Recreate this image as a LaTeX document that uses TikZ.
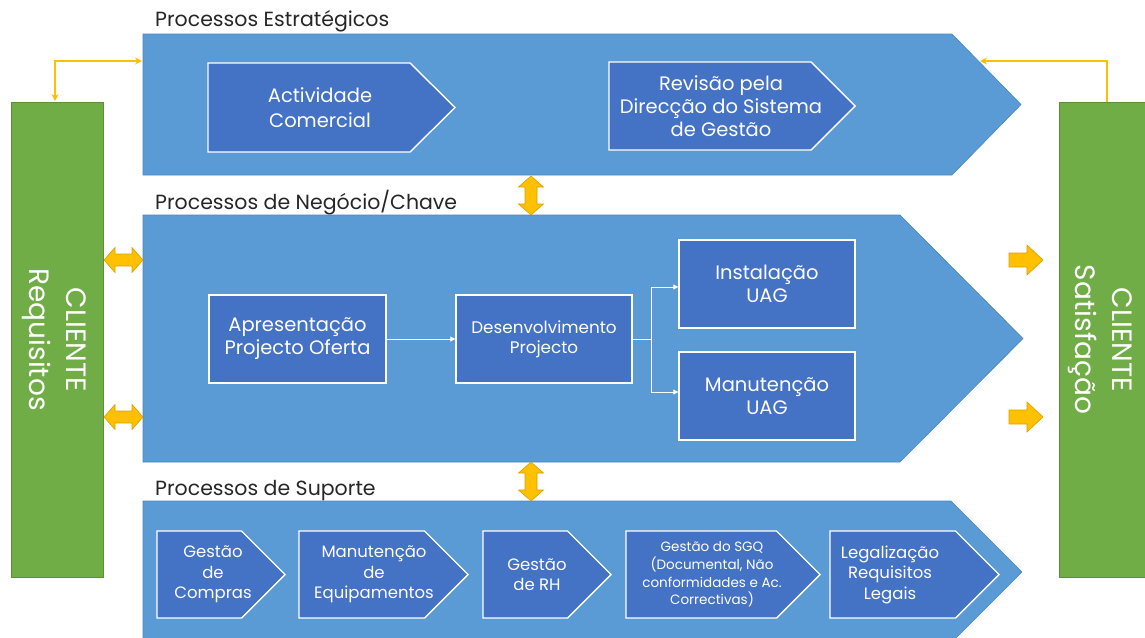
\documentclass[tikz,border=0pt]{standalone}
\usepackage{fontspec}
\setmainfont{Poppins}
\usetikzlibrary{arrows.meta}

\definecolor{panel}{HTML}{5B9BD5}
\definecolor{panelline}{HTML}{4A86C0}
\definecolor{boxfill}{HTML}{4472C4}
\definecolor{client}{HTML}{70AD47}
\definecolor{clientline}{HTML}{5A9038}
\definecolor{flow}{HTML}{FFC000}
\definecolor{flowline}{HTML}{D9A000}
\definecolor{heading}{HTML}{262626}

% horizontal double block arrow: left x, right x, centre y
\newcommand{\hdblarrow}[3]{%
  \filldraw[blockarrow] (#1,#3) -- (#1+11,#3-12.5) -- (#1+11,#3-6) -- (#2-11,#3-6)
    -- (#2-11,#3-12.5) -- (#2,#3) -- (#2-11,#3+12.5) -- (#2-11,#3+6)
    -- (#1+11,#3+6) -- (#1+11,#3+12.5) -- cycle;}
% vertical double block arrow: centre x, top y, bottom y
\newcommand{\vdblarrow}[3]{%
  \filldraw[blockarrow] (#1,#2) -- (#1+12.5,#2+11) -- (#1+6,#2+11) -- (#1+6,#3-11)
    -- (#1+12.5,#3-11) -- (#1,#3) -- (#1-12.5,#3-11) -- (#1-6,#3-11)
    -- (#1-6,#2+11) -- (#1-12.5,#2+11) -- cycle;}
% single block arrow pointing right: left x, right x, centre y
\newcommand{\rblockarrow}[3]{%
  \filldraw[blockarrow] (#1,#3-7) -- (#2-16,#3-7) -- (#2-16,#3-15) -- (#2,#3)
    -- (#2-16,#3+15) -- (#2-16,#3+7) -- (#1,#3+7) -- cycle;}

\begin{document}
\begin{tikzpicture}[x=1pt,y=-1pt,
  panelshape/.style={fill=panel,draw=panelline,line width=0.6pt},
  stepshape/.style={fill=boxfill,draw=white,line width=1.4pt},
  rectbox/.style={rectangle,fill=boxfill,draw=white,line width=1.4pt,
    text=white,align=center,inner sep=0pt},
  lblbig/.style={text=white,align=center,inner sep=0pt,
    font=\fontsize{19.5}{24}\selectfont},
  lblmid/.style={text=white,align=center,inner sep=0pt,
    font=\fontsize{16.5}{20.5}\selectfont},
  lblsmall/.style={text=white,align=center,inner sep=0pt,
    font=\fontsize{13.5}{17.7}\selectfont},
  headline/.style={anchor=base west,text=heading,inner sep=0pt,
    font=\fontsize{20.5}{24}\selectfont},
  clientbox/.style={rectangle,fill=client,draw=clientline,line width=0.6pt,inner sep=0pt},
  clientlbl/.style={text=white,align=center,inner sep=0pt,rotate=-90,
    font=\fontsize{28}{37.5}\selectfont},
  blockarrow/.style={fill=flow,draw=flowline,line width=0.6pt,line join=miter},
  flowlink/.style={draw=flow,line width=1.6pt},
  innerlink/.style={draw=white,line width=0.8pt,
    -{Triangle[length=5pt,width=5pt]}},
]
\useasboundingbox (0,0) rectangle (1145,637);
\clip (0,0) rectangle (1145,637);

% ---- client columns ----
\node[clientbox,minimum width=92pt,minimum height=475pt] (req) at (57,339.5) {};
\node[clientlbl] (reqtxt) at (54,339.5) {CLIENTE\\Requisitos};
\node[clientbox,minimum width=92pt,minimum height=475pt] (sat) at (1105,339.5) {};
\node[clientlbl] (sattxt) at (1100,339.5) {CLIENTE\\Satisfação};

% ---- strategic processes ----
\node[headline] (hEstr) at (155,27) {Processos Estratégicos};
\path[panelshape] (143,34) -- (952,34) -- (1021,104.5) -- (952,175) -- (143,175) -- cycle;
\path[stepshape] (208,63) -- (410,63) -- (455,107.5) -- (410,152) -- (208,152) -- cycle;
\node[lblbig,font=\fontsize{19.5}{25}\selectfont] (actv) at (320,107.5) {Actividade\\Comercial};
\path[stepshape] (609,62) -- (811,62) -- (855,106) -- (811,150) -- (609,150) -- cycle;
\node[lblbig,font=\fontsize{19.5}{23}\selectfont] (revis) at (721,106)
  {Revisão pela\\Direcção do Sistema\\de Gestão};

% ---- business / key processes ----
\node[headline] (hNeg) at (155,209) {Processos de Negócio/Chave};
\path[panelshape] (143,215) -- (900,215) -- (1023,338.5) -- (900,462) -- (143,462) -- cycle;
\node[rectbox,minimum width=177pt,minimum height=88pt,font=\fontsize{19.5}{23}\selectfont]
  (apres) at (297.5,339) {Apresentação\\Projecto Oferta};
\node[rectbox,minimum width=176pt,minimum height=88pt,font=\fontsize{16.8}{20}\selectfont]
  (desenv) at (544,339) {Desenvolvimento\\Projecto};
\node[rectbox,minimum width=176pt,minimum height=88pt,font=\fontsize{19.5}{23}\selectfont]
  (inst) at (767,284) {Instalação\\UAG};
\node[rectbox,minimum width=176pt,minimum height=88pt,font=\fontsize{19.5}{23}\selectfont]
  (manut) at (767,396) {Manutenção\\UAG};
\coordinate (fork) at (651,339);
\draw[innerlink] (apres) -- (desenv);
\draw[draw=white,line width=0.8pt] (desenv.east) -- (fork);
\draw[innerlink] (fork) |- ([yshift=-3pt]inst.west);
\draw[innerlink] (fork) |- ([yshift=4pt]manut.west);

% ---- support processes ----
\node[headline] (hSup) at (155,495) {Processos de Suporte};
\path[panelshape] (143,501) -- (951,501) -- (1022,572) -- (951,643) -- (143,643) -- cycle;
\path[stepshape] (157,531) -- (241.5,531) -- (285,574.5) -- (241.5,618) -- (157,618) -- cycle;
\node[lblmid] (compras) at (213,574.5) {Gestão\\de\\Compras};
\path[stepshape] (299,531) -- (424.5,531) -- (468,574.5) -- (424.5,618) -- (299,618) -- cycle;
\node[lblmid] (equip) at (374,574.5) {Manutenção\\de\\Equipamentos};
\path[stepshape] (483,531) -- (567.5,531) -- (611,574.5) -- (567.5,618) -- (483,618) -- cycle;
\node[lblmid] (rh) at (537,574.5) {Gestão\\de RH};
\path[stepshape] (626,531) -- (776.5,531) -- (820,574.5) -- (776.5,618) -- (626,618) -- cycle;
\node[lblsmall] (sgq) at (712,574.5) {Gestão do SGQ\\(Documental, Não\\conformidades e Ac.\\Correctivas)};
\path[stepshape] (830,531) -- (955.5,531) -- (999,574.5) -- (955.5,618) -- (830,618) -- cycle;
\node[lblmid] (legal) at (890,574.5) {Legalização\\Requisitos\\Legais};

% ---- flows between clients and processes ----
\coordinate (estrL) at (142,61);
\coordinate (estrR) at (980,61);
\coordinate (reqtop) at (55,101);
\coordinate (sattop) at (1107,102);
\draw[flowlink,{Stealth[length=7pt,width=7pt]}-{Stealth[length=7pt,width=7pt]}]
  (estrL) -| (reqtop);
\draw[flowlink,-{Stealth[length=7pt,width=7pt]}] (sattop) |- (estrR);

\hdblarrow{104}{143}{260}
\hdblarrow{104}{143}{417}
\vdblarrow{531}{176}{215}
\vdblarrow{531}{462}{501}
\rblockarrow{1009}{1043}{260}
\rblockarrow{1009}{1043}{417}
\end{tikzpicture}
\end{document}
